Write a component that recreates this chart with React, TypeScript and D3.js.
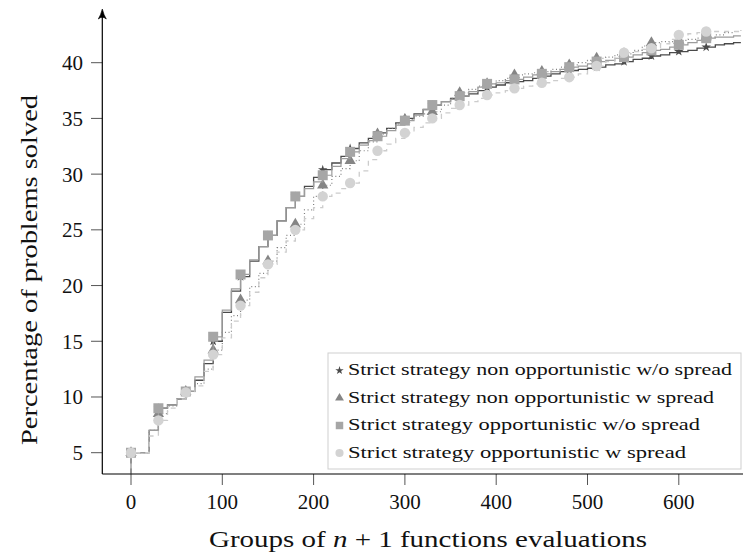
import React from "react";
import * as d3 from "d3";

const evals = [0, 10, 20, 30, 40, 50, 60, 70, 80, 90, 100, 110, 120, 130, 140, 150, 160, 170, 180, 190, 200, 210, 220, 230, 240, 250, 260, 270, 280, 290, 300, 310, 320, 330, 340, 350, 360, 370, 380, 390, 400, 410, 420, 430, 440, 450, 460, 470, 480, 490, 500, 510, 520, 530, 540, 550, 560, 570, 580, 590, 600, 610, 620, 630, 640, 650, 660, 668];

const starVals = [5, 5, 7, 9, 9.3, 9.8, 10.5, 11.5, 13, 15, 17.6, 19.5, 20.8, 22.2, 23.5, 24.5, 25.8, 27, 28, 28.9, 29.7, 30.4, 31, 31.6, 32.3, 32.8, 33.2, 33.7, 34.1, 34.6, 35, 35.4, 35.8, 36.2, 36.5, 36.8, 37, 37.2, 37.5, 37.8, 38, 38.2, 38.3, 38.4, 38.6, 38.8, 39, 39.2, 39.3, 39.4, 39.5, 39.6, 39.8, 39.9, 40.1, 40.3, 40.4, 40.6, 40.7, 40.9, 41.0, 41.1, 41.3, 41.4, 41.6, 41.7, 41.8, 41.8];
const triVals = [5, 5, 7, 8.5, 9.2, 9.8, 10.5, 11.2, 12.5, 14.2, 15.8, 17.3, 18.7, 19.9, 21.1, 22.2, 23.4, 24.5, 25.5, 26.8, 28, 29.0, 29.8, 30.5, 31.2, 32.1, 32.9, 33.6, 34.1, 34.5, 34.9, 35.2, 35.4, 35.6, 36.2, 36.8, 37.3, 37.6, 37.9, 38.1, 38.4, 38.6, 38.9, 39.0, 39.1, 39.2, 39.4, 39.6, 39.8, 40.0, 40.2, 40.4, 40.5, 40.7, 40.8, 41.1, 41.5, 41.8, 41.9, 41.9, 42.0, 42.1, 42.2, 42.3, 42.5, 42.7, 42.8, 42.9];
const sqVals = [5, 5, 7, 9.0, 9.3, 9.8, 10.5, 11.8, 13.3, 15.4, 17.8, 19.7, 21.0, 22.3, 23.5, 24.5, 25.8, 27, 28.0, 28.7, 29.3, 29.9, 30.7, 31.4, 32.0, 32.6, 33.0, 33.4, 33.9, 34.4, 34.8, 35.3, 35.8, 36.2, 36.5, 36.7, 37.0, 37.4, 37.8, 38.1, 38.2, 38.4, 38.5, 38.7, 38.9, 39.0, 39.2, 39.4, 39.6, 39.7, 39.9, 40.1, 40.2, 40.4, 40.5, 40.7, 40.9, 41.1, 41.2, 41.4, 41.6, 41.8, 42.0, 42.2, 42.3, 42.3, 42.4, 42.4];
const circVals = [5, 5, 6.5, 7.9, 9.0, 9.8, 10.4, 11.0, 12.3, 13.8, 15.3, 16.8, 18.2, 19.4, 20.7, 21.9, 23, 24, 25.0, 26, 27, 28.0, 28.3, 28.7, 29.2, 30.3, 31.3, 32.1, 32.7, 33.2, 33.7, 34.2, 34.6, 35.0, 35.5, 35.9, 36.2, 36.5, 36.8, 37.1, 37.3, 37.5, 37.7, 37.9, 38.1, 38.2, 38.4, 38.6, 38.7, 39.0, 39.4, 39.7, 40.1, 40.5, 40.9, 41.0, 41.2, 41.3, 41.7, 42.1, 42.5, 42.6, 42.7, 42.8, 42.8, 42.8, 42.8, 42.8];

const xTicks = [0, 100, 200, 300, 400, 500, 600];
const yTicks = [5, 10, 15, 20, 25, 30, 35, 40];
const seriesNames = [
  "Strict strategy non opportunistic w/o spread",
  "Strict strategy non opportunistic w spread",
  "Strict strategy opportunistic w/o spread",
  "Strict strategy opportunistic w spread",
];

const W = 743, H = 553;
const x = d3.scaleLinear().domain([0, 600]).range([131, 678.8]);
const y = d3.scaleLinear().domain([5, 40]).range([452.7, 62.7]);
const X0 = 102.3, YB = 474;

const styles = [
  { vals: starVals, stroke: "#4a4a4a", dash: "none", width: 1.3, fill: "#4a4a4a", sym: d3.symbolStar, size: 28, lsize: 22 },
  { vals: triVals, stroke: "#808080", dash: "1 2.6", width: 1.2, fill: "#858585", sym: d3.symbolTriangle, size: 55, lsize: 34 },
  { vals: sqVals, stroke: "#9c9c9c", dash: "none", width: 1.2, fill: "#a6a6a6", sym: d3.symbolSquare, size: 100, lsize: 56 },
  { vals: circVals, stroke: "#cccccc", dash: "5 5", width: 1.3, fill: "#d3d3d3", sym: d3.symbolCircle, size: 85, lsize: 52 },
];

const legendW = [384, 366, 352, 338];

export default function App() {
  const lineGen = d3.line<[number, number]>().x(d => x(d[0])).y(d => y(d[1])).curve(d3.curveStepAfter);
  const font = "'Liberation Serif', 'Times New Roman', serif";
  return (
    <svg width={W} height={H} style={{ position: "absolute", left: 0, top: 0, background: "#fff" }}>
      <defs>
        <clipPath id="plotclip">
          <rect x={X0} y={0} width={W - X0} height={YB - 0} />
        </clipPath>
      </defs>
      {yTicks.map(t => (
        <g key={"y" + t}>
          <line x1={91} x2={X0} y1={y(t)} y2={y(t)} stroke="#555" strokeWidth={1} />
          <text x={83} y={y(t) + 7.5} textAnchor="end" fontFamily={font} fontSize={21} fill="#111">{t}</text>
        </g>
      ))}
      {xTicks.map(t => (
        <g key={"x" + t}>
          <line x1={x(t)} x2={x(t)} y1={YB} y2={485} stroke="#555" strokeWidth={1} />
          <text x={x(t)} y={509} textAnchor="middle" fontFamily={font} fontSize={21} fill="#111">{t}</text>
        </g>
      ))}
      <g clipPath="url(#plotclip)">
        {styles.map((s, i) => {
          const pts: [number, number][] = [[0, 0], ...evals.map((e, j) => [e, s.vals[j]] as [number, number])];
          return (
            <g key={"s" + i}>
              <path d={lineGen(pts) || ""} fill="none" stroke={s.stroke} strokeWidth={s.width} strokeDasharray={s.dash} />
              {evals.map((e, j) => (e % 30 === 0 && e <= 630) ? (
                <path key={j} d={d3.symbol().type(s.sym).size(s.size)() || ""} transform={`translate(${x(e)},${y(s.vals[j])})`} fill={s.fill} />
              ) : null)}
            </g>
          );
        })}
      </g>
      <line x1={X0} x2={W} y1={YB} y2={YB} stroke="#000" strokeWidth={1.2} />
      <line x1={X0} x2={X0} y1={YB} y2={13} stroke="#000" strokeWidth={1.2} />
      <path d={`M${X0 - 4},${19} Q${X0 - 1.5},${15} ${X0},${9} Q${X0 + 1.5},${15} ${X0 + 4},${19} Q${X0},${15.5} ${X0 - 4},${19} Z`} fill="#000" stroke="#000" strokeWidth={0.6} />
      <rect x={328} y={353} width={413} height={116} fill="#fff" stroke="#cfcfcf" strokeWidth={1} />
      {styles.map((s, i) => {
        const ly = 375 + i * 27.5;
        return (
          <g key={"l" + i}>
            <path d={d3.symbol().type(s.sym).size(s.lsize)() || ""} transform={`translate(${339.5},${ly - 4.5})`} fill={s.fill} />
            <text x={348} y={ly} fontFamily={font} fontSize={16.5} fill="#111" textLength={legendW[i]} lengthAdjust="spacingAndGlyphs">{seriesNames[i]}</text>
          </g>
        );
      })}
      <text x={428} y={547} textAnchor="middle" fontFamily={font} fontSize={23} fill="#111" textLength={438} lengthAdjust="spacingAndGlyphs">
        Groups of <tspan fontStyle="italic">n</tspan> + 1 functions evaluations
      </text>
      <text transform="translate(37,270) rotate(-90)" textAnchor="middle" fontFamily={font} fontSize={23} fill="#111" textLength={350} lengthAdjust="spacingAndGlyphs">
        Percentage of problems solved
      </text>
    </svg>
  );
}
